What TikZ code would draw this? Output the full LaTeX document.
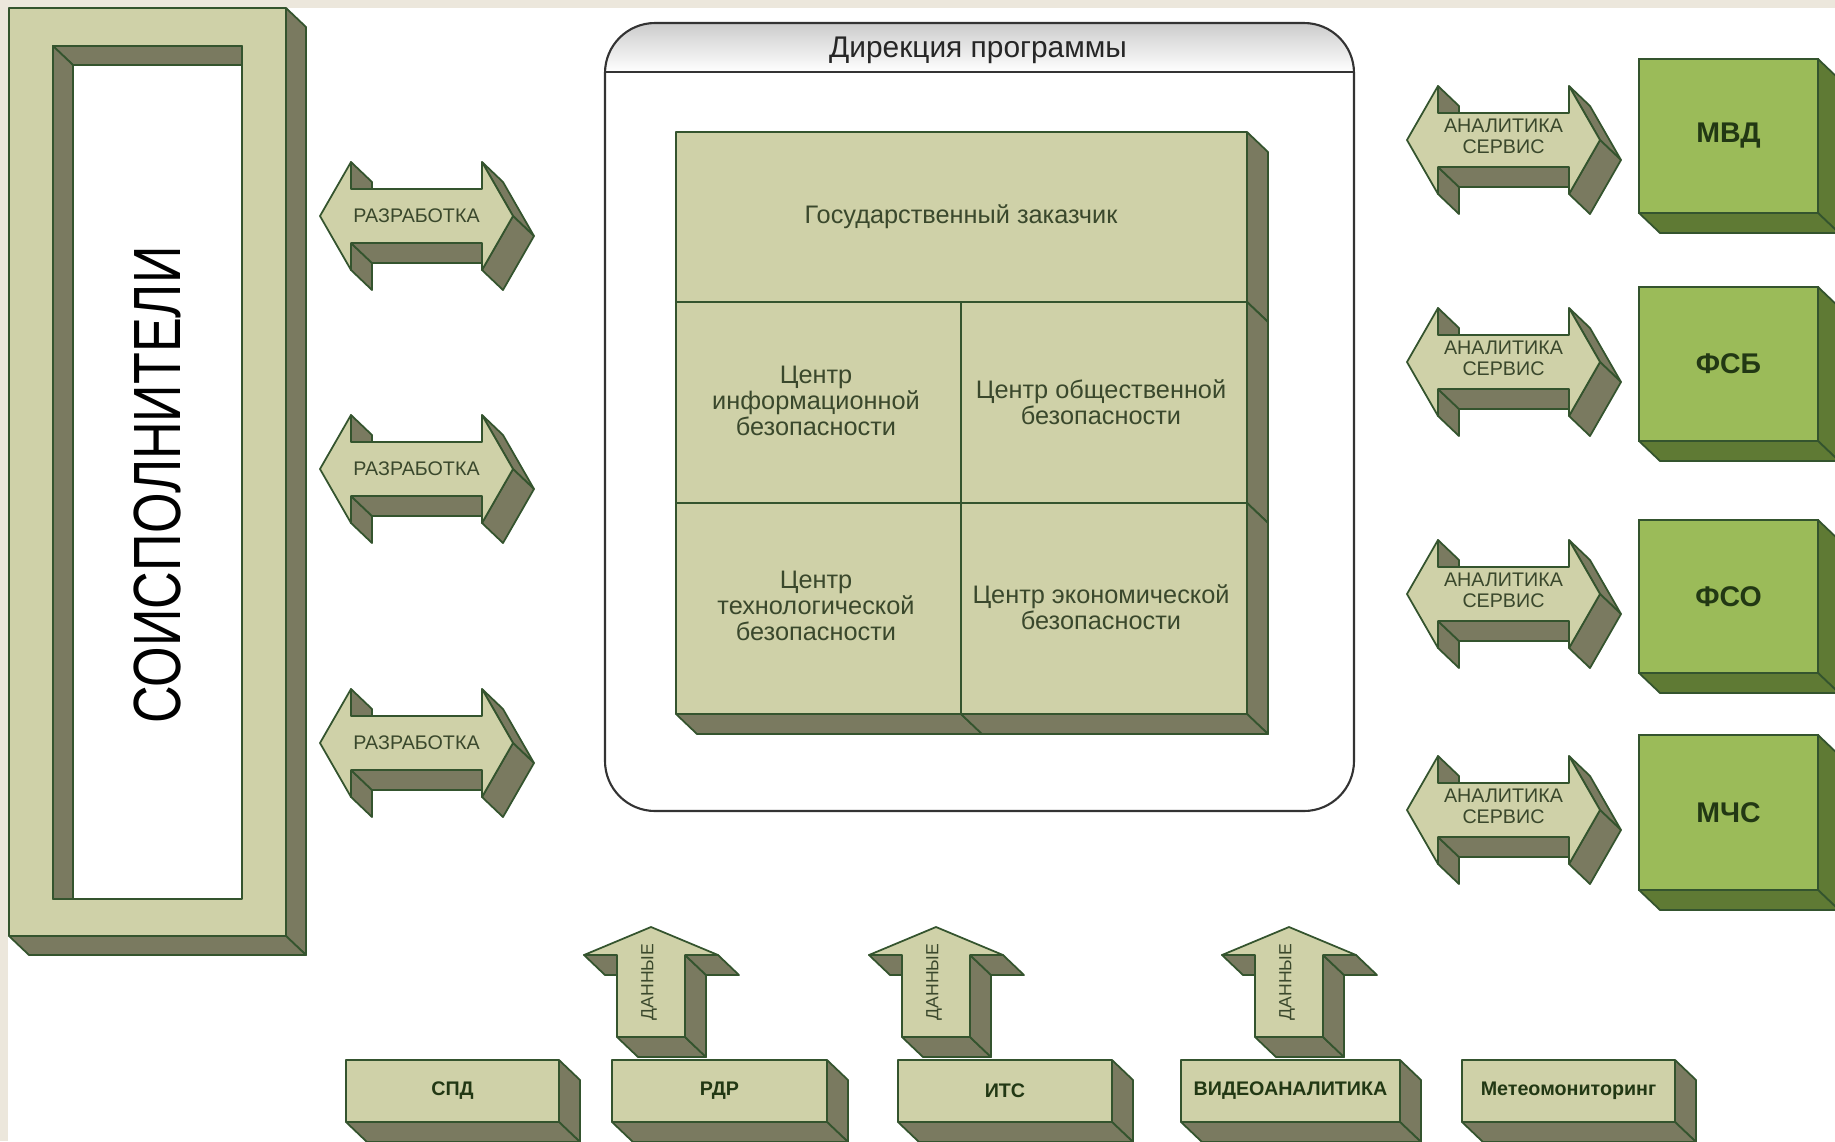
\documentclass[tikz,border=0pt]{standalone}
\usepackage{fontspec}
\setmainfont{Liberation Sans}
\newfontfamily\condsans[FakeStretch=0.78]{Liberation Sans}
\definecolor{bgbeige}{RGB}{236,231,220}
\definecolor{khaki}{RGB}{207,209,168}
\definecolor{khakidark}{RGB}{122,122,96}
\definecolor{edgegreen}{RGB}{52,84,46}
\definecolor{boxgreen}{RGB}{155,187,89}
\definecolor{boxgreendark}{RGB}{95,122,52}
\definecolor{textgreen}{RGB}{58,72,44}
\definecolor{darkgreen}{RGB}{34,56,20}
\tikzset{
  face/.style={fill=khaki,draw=edgegreen,line width=0.5pt,line join=round},
  side/.style={fill=khakidark,draw=edgegreen,line width=0.5pt,line join=round},
  gface/.style={fill=boxgreen,draw=edgegreen,line width=0.5pt},
  gside/.style={fill=boxgreendark,draw=edgegreen,line width=0.5pt,line join=round},
  cell/.style={inner sep=0pt,align=center,text=textgreen,font=\fontsize{7.2}{7.4}\selectfont},
  arrowtext/.style={inner sep=0pt,align=center,text=textgreen,font=\fontsize{5.6}{6}\selectfont},
  agency/.style={inner sep=0pt,text=darkgreen,font=\bfseries\fontsize{8.1}{9}\selectfont},
  source/.style={inner sep=0pt,text=darkgreen,font=\bfseries\fontsize{5.6}{6}\selectfont},
}
% box with right and bottom faces: x1,y1,x2,y2,front,side
\newcommand{\slab}[6]{%
  \draw[#6] (#3,#2) -- (#3+21,#2+20) -- (#3+21,#4+20) -- (#3,#4) -- cycle;
  \draw[#6] (#1,#4) -- (#3,#4) -- (#3+21,#4+20) -- (#1+21,#4+20) -- cycle;
  \draw[#5] (#1,#2) rectangle (#3,#4);}
% double block arrow centred at x,y
\newcommand{\twoway}[2]{%
  \begin{scope}[shift={(#1,#2)}]
  \draw[side] (-65.5,-54) -- (-65.5,-27) -- (-44.5,-7) -- (-44.5,-34) -- cycle;
  \draw[side] (-65.5,27) -- (-65.5,54) -- (-44.5,74) -- (-44.5,47) -- cycle;
  \draw[side] (65.5,27) -- (-65.5,27) -- (-44.5,47) -- (86.5,47) -- cycle;
  \draw[side] (65.5,-54) -- (96.5,0) -- (117.5,20) -- (86.5,-34) -- cycle;
  \draw[side] (96.5,0) -- (65.5,54) -- (86.5,74) -- (117.5,20) -- cycle;
  \draw[face] (-96.5,0) -- (-65.5,-54) -- (-65.5,-27) -- (65.5,-27) -- (65.5,-54) -- (96.5,0)
    -- (65.5,54) -- (65.5,27) -- (-65.5,27) -- (-65.5,54) -- cycle;
  \end{scope}}
% block arrow pointing up, centred at x
\newcommand{\uparr}[1]{%
  \begin{scope}[shift={(#1,0)}]
  \draw[side] (-34,955) -- (-67,955) -- (-46,975) -- (-13,975) -- cycle;
  \draw[side] (34,1037) -- (-34,1037) -- (-13,1057) -- (55,1057) -- cycle;
  \draw[side] (34,955) -- (34,1037) -- (55,1057) -- (55,975) -- cycle;
  \draw[side] (67,955) -- (34,955) -- (55,975) -- (88,975) -- cycle;
  \draw[face] (0,927) -- (67,955) -- (34,955) -- (34,1037) -- (-34,1037) -- (-34,955) -- (-67,955) -- cycle;
  \end{scope}}
\begin{document}
\begin{tikzpicture}[x=0.01cm,y=-0.01cm]
\useasboundingbox (0,0) rectangle (1835,1141);
\clip (0,0) rectangle (1835,1141);
\fill[bgbeige] (0,0) rectangle (1835,1141);
\fill[white] (8,8) rectangle (1835,1141);

% soispolniteli frame
\draw[side] (286,8) -- (306,27) -- (306,955) -- (286,936) -- cycle;
\draw[side] (9,936) -- (286,936) -- (306,955) -- (29,955) -- cycle;
\draw[face,even odd rule] (9,8) rectangle (286,936) (53,46) rectangle (242,899);
\draw[side] (53,46) -- (242,46) -- (242,65) -- (73,65) -- cycle;
\draw[side] (53,46) -- (73,65) -- (73,899) -- (53,899) -- cycle;
\node[inner sep=0pt,rotate=90,font=\condsans\fontsize{19}{20}\selectfont] (soisp) at (157,485) {СОИСПОЛНИТЕЛИ};

% razrabotka
\foreach \y [count=\i] in {216,469,743} {
  \twoway{416.5}{\y}
  \node[arrowtext] (razr\i) at (416.5,\y) {РАЗРАБОТКА};
}

% direkcija
\begin{scope}
  \clip[rounded corners=0.5cm] (605,23) rectangle (1354,811);
  \shade[top color=black!20,bottom color=white] (605,23) rectangle (1354,72);
\end{scope}
\draw[line width=0.6pt,black!80,rounded corners=0.5cm] (605,23) rectangle (1354,811);
\draw[line width=0.6pt,black!80] (605,72) -- (1354,72);
\node[inner sep=0pt,text=black!85,font=\fontsize{8.5}{9}\selectfont] (dir) at (978,50) {Дирекция программы};

\slab{676}{132}{1247}{302}{face}{side}
\slab{676}{302}{961}{503}{face}{side}
\slab{961}{302}{1247}{503}{face}{side}
\slab{676}{503}{961}{714}{face}{side}
\slab{961}{503}{1247}{714}{face}{side}
\node[cell] (zakaz) at (961,217) {Государственный заказчик};
\node[cell] (cib) at (816,401) {Центр\\информационной\\безопасности};
\node[cell] (cob) at (1101,402) {Центр общественной\\безопасности};
\node[cell] (ctb) at (816,606) {Центр\\технологической\\безопасности};
\node[cell] (ceb) at (1101,607) {Центр экономической\\безопасности};

% analitika
\foreach \y [count=\i] in {140,362,594,810} {
  \twoway{1503.5}{\y}
  \node[arrowtext] (anl\i) at (1503.5,\y-4) {АНАЛИТИКА\\СЕРВИС};
}
\foreach \ya/\yb/\name/\txt in {59/213/mvd/МВД,287/441/fsb/ФСБ,520/673/fso/ФСО,735/890/mchs/МЧС} {
  \slab{1639}{\ya}{1818}{\yb}{gface}{gside}
  \node[agency] (\name) at (1728.5,{(\ya+\yb)/2}) {\txt};
}

% dannye
\foreach \x [count=\i] in {651,936,1289} {
  \uparr{\x}
  \node[arrowtext,rotate=90,font=\fontsize{5}{6}\selectfont] (dan\i) at (\x-2,982) {ДАННЫЕ};
}
\foreach \xa/\xb/\name/\txt in {346/559/spd/СПД,612/827/rdr/РДР,898/1112/its/ИТС,1181/1400/video/ВИДЕОАНАЛИТИКА,1462/1675/meteo/Метеомониторинг} {
  \slab{\xa}{1060}{\xb}{1122}{face}{side}
  \node[source] (\name) at ({(\xa+\xb)/2},1091) {\txt};
}
\end{tikzpicture}
\end{document}
